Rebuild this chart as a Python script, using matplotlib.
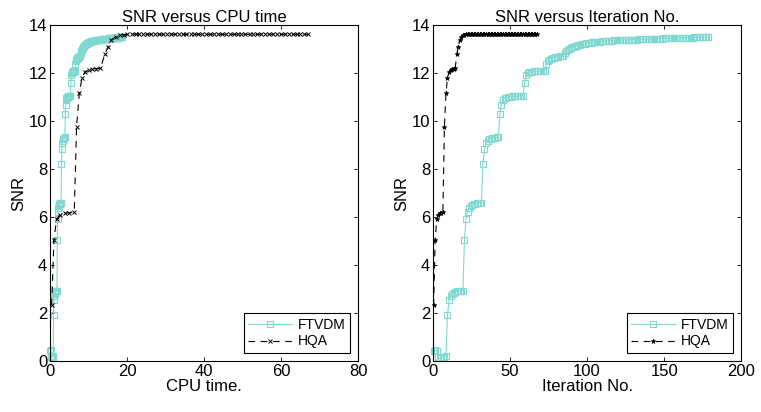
import numpy as np
import matplotlib
matplotlib.use("Agg")
import matplotlib.pyplot as plt

plt.rcParams['font.family'] = ['Liberation Sans', 'DejaVu Sans']

# FTVDM: SNR per iteration
ftvdm_snr = [
    0.42, 0.45, 0.42, 0.15, 0.12, 0.15, 0.17, 0.18, 0.20, 1.93,
    2.52, 2.72, 2.80, 2.85, 2.88, 2.90, 2.91, 2.92, 2.93, 2.93,
    5.03, 5.90, 6.22, 6.38, 6.45, 6.50, 6.54, 6.56, 6.58, 6.59,
    6.60, 6.60, 8.20, 8.82, 9.07, 9.18, 9.24, 9.27, 9.29, 9.30,
    9.31, 9.32, 9.32, 10.30, 10.67, 10.88, 10.95, 10.98, 11.00, 11.01,
    11.02, 11.03, 11.03, 11.04, 11.04, 11.05, 11.05, 11.05, 11.05, 11.57,
    11.90, 12.00, 12.03, 12.05, 12.06, 12.07, 12.08, 12.08, 12.09, 12.09,
    12.10, 12.10, 12.10, 12.38, 12.50, 12.56, 12.60, 12.63, 12.65, 12.66,
    12.68, 12.69, 12.70, 12.71, 12.72, 12.85, 12.92, 12.97, 13.01, 13.05,
    13.08, 13.10, 13.13, 13.15, 13.17, 13.19, 13.20, 13.22, 13.23, 13.24,
    13.25, 13.26, 13.27, 13.28, 13.29, 13.30, 13.30, 13.31, 13.31, 13.32,
    13.32, 13.33, 13.33, 13.34, 13.34, 13.35, 13.35, 13.36, 13.36, 13.36,
    13.37, 13.37, 13.37, 13.38, 13.38, 13.38, 13.39, 13.39, 13.39, 13.40,
    13.40, 13.40, 13.40, 13.41, 13.41, 13.41, 13.41, 13.42, 13.42, 13.42,
    13.42, 13.43, 13.43, 13.43, 13.43, 13.44, 13.44, 13.44, 13.44, 13.45,
    13.45, 13.45, 13.45, 13.46, 13.46, 13.46, 13.46, 13.46, 13.47, 13.47,
    13.47, 13.47, 13.47, 13.48, 13.48, 13.48, 13.48, 13.48, 13.48, 13.49,
    13.49, 13.49, 13.49, 13.49, 13.49, 13.50, 13.50, 13.50, 13.50,
]

# FTVDM: cumulative CPU time (s) per iteration
ftvdm_cpu = [
    0.10, 0.19, 0.28, 0.37, 0.46, 0.55, 0.64, 0.73, 0.82, 0.91,
    1.00, 1.09, 1.18, 1.27, 1.36, 1.45, 1.54, 1.63, 1.72, 1.81,
    1.90, 1.99, 2.08, 2.17, 2.26, 2.35, 2.44, 2.53, 2.62, 2.71,
    2.80, 2.89, 2.98, 3.07, 3.16, 3.25, 3.34, 3.43, 3.52, 3.61,
    3.70, 3.79, 3.88, 3.97, 4.06, 4.15, 4.24, 4.33, 4.42, 4.51,
    4.60, 4.69, 4.78, 4.87, 4.96, 5.05, 5.14, 5.23, 5.32, 5.41,
    5.50, 5.59, 5.68, 5.77, 5.86, 5.95, 6.04, 6.13, 6.22, 6.31,
    6.40, 6.49, 6.58, 6.60, 6.72, 6.83, 6.95, 7.06, 7.18, 7.29,
    7.41, 7.52, 7.64, 7.75, 7.87, 7.98, 8.10, 8.21, 8.33, 8.44,
    8.56, 8.67, 8.79, 8.90, 9.02, 9.13, 9.25, 9.36, 9.48, 9.59,
    9.71, 9.82, 9.94, 10.05, 10.17, 10.28, 10.40, 10.51, 10.63, 10.74,
    10.86, 10.97, 11.09, 11.20, 11.32, 11.43, 11.55, 11.66, 11.78, 11.89,
    12.01, 12.12, 12.24, 12.35, 12.47, 12.58, 12.70, 12.81, 12.93, 13.04,
    13.16, 13.27, 13.39, 13.50, 13.62, 13.73, 13.85, 13.96, 14.08, 14.19,
    14.31, 14.42, 14.54, 14.65, 14.77, 14.88, 15.00, 15.11, 15.23, 15.34,
    15.46, 15.57, 15.69, 15.80, 15.92, 16.03, 16.15, 16.26, 16.38, 16.49,
    16.61, 16.72, 16.84, 16.95, 17.07, 17.18, 17.30, 17.41, 17.53, 17.64,
    17.76, 17.87, 17.99, 18.10, 18.22, 18.33, 18.45, 18.56, 18.68,
]

# HQA: SNR per iteration
hqa_snr = [
    2.32, 5.05, 5.90, 6.10, 6.15, 6.18, 6.20, 9.76, 11.15, 11.80,
    12.05, 12.13, 12.17, 12.19, 12.20, 12.78, 13.10, 13.38, 13.52, 13.57,
    13.60, 13.61, 13.62, 13.62, 13.62, 13.62, 13.62, 13.62, 13.62, 13.62,
    13.62, 13.62, 13.62, 13.62, 13.62, 13.62, 13.62, 13.62, 13.62, 13.62,
    13.62, 13.62, 13.62, 13.62, 13.62, 13.62, 13.62, 13.62, 13.62, 13.62,
    13.62, 13.62, 13.62, 13.62, 13.62, 13.62, 13.62, 13.62, 13.62, 13.62,
    13.62, 13.62, 13.62, 13.62, 13.62, 13.62, 13.62, 13.62,
]

# HQA: cumulative CPU time (s) per iteration
hqa_cpu = [
    0.43, 1.03, 1.70, 2.60, 3.80, 5.00, 6.30, 6.90, 7.60, 8.30,
    9.05, 10.00, 11.00, 12.00, 13.10, 14.20, 15.10, 15.90, 17.10, 18.1,
    19.1, 20.1, 21.2, 22.2, 23.2, 24.2, 25.2, 26.3, 27.3, 28.3,
    29.3, 30.3, 31.4, 32.4, 33.4, 34.4, 35.4, 36.5, 37.5, 38.5,
    39.5, 40.5, 41.6, 42.6, 43.6, 44.6, 45.6, 46.7, 47.7, 48.7,
    49.7, 50.7, 51.8, 52.8, 53.8, 54.8, 55.8, 56.9, 57.9, 58.9,
    59.9, 60.9, 62.0, 63.0, 64.0, 65.0, 66.0, 67.0,
]

cyan = '#7fd9d0'

fig = plt.figure(figsize=(7.61, 4.12), dpi=100)
ax1 = fig.add_axes([0.0657, 0.124, 0.405, 0.815])
ax2 = fig.add_axes([0.569, 0.124, 0.405, 0.815])

# first point sits right on the y axis, nudge iteration numbers a bit like the original
ftvdm_it = np.arange(len(ftvdm_snr)) + 0.4
hqa_it = np.arange(len(hqa_snr)) + 0.4


def style(ax, xmax, xstep, title, xlabel):
    ax.set_xlim(0, xmax)
    ax.set_ylim(0, 14)
    ax.set_xticks(np.arange(0, xmax + 1, xstep))
    ax.set_yticks(np.arange(0, 15, 2))
    ax.tick_params(direction='in', top=True, right=True, labelsize=12, length=3, width=0.6, pad=2)
    ax.set_title(title, fontsize=12, pad=2)
    ax.set_xlabel(xlabel, fontsize=12, labelpad=0)
    ax.set_ylabel('SNR', fontsize=12, labelpad=2)
    for s in ax.spines.values():
        s.set_linewidth(0.8)
    leg = ax.legend(loc='lower right', fontsize=10, fancybox=False, framealpha=1,
                    borderaxespad=0.6, handlelength=3.2, borderpad=0.3, labelspacing=0.2,
                    handletextpad=0.4)
    leg.get_frame().set_edgecolor('black')
    leg.get_frame().set_linewidth(0.8)


ax1.plot(ftvdm_cpu, ftvdm_snr, color=cyan, lw=0.8, marker='s', ms=4.5,
         mfc='none', mec=cyan, mew=0.8, label='FTVDM', clip_on=False)
ax1.plot(hqa_cpu, hqa_snr, color='black', lw=0.8, ls=(0, (6, 5)), marker='x', ms=3,
         mew=0.7, label='HQA', clip_on=False)
style(ax1, 80, 20, 'SNR versus CPU time', 'CPU time.')

ax2.plot(ftvdm_it, ftvdm_snr, color=cyan, lw=0.8, marker='s', ms=4.5,
         mfc='none', mec=cyan, mew=0.8, label='FTVDM', clip_on=False)
ax2.plot(hqa_it, hqa_snr, color='black', lw=0.8, ls=(0, (6, 5)), marker='*', ms=3.5,
         mew=0.5, label='HQA', clip_on=False)
style(ax2, 200, 50, 'SNR versus Iteration No.', 'Iteration No.')

fig.savefig('out.png', dpi=100)
